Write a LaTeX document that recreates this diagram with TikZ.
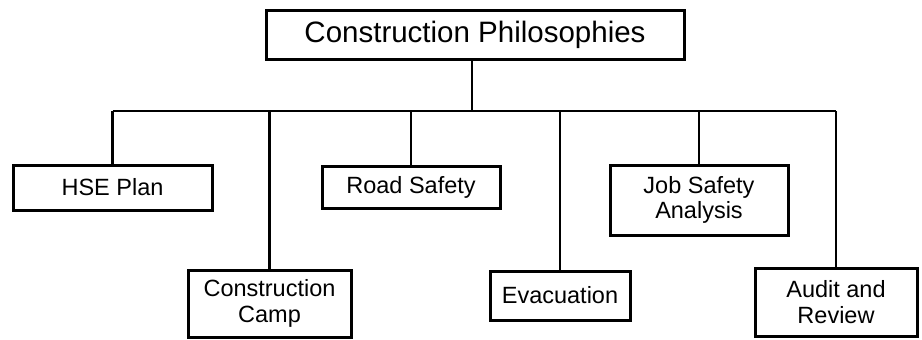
\documentclass[tikz,border=0pt]{standalone}
\usepackage{fontspec}
\setmainfont{Liberation Sans}
\begin{document}
\begin{tikzpicture}[x=1pt,y=-1pt,
  box/.style={draw, line width=3pt, rectangle, inner sep=0pt, align=center,
    font=\fontsize{23.5}{25.5}\selectfont},
  conn/.style={line width=2.8pt}]
\useasboundingbox (0,0) rectangle (922,340);
\node[box, minimum width=418pt, minimum height=49pt, font=\fontsize{29.5}{33}\selectfont] (top) at (475,34.5) {Construction Philosophies};
\node[box, minimum width=199pt, minimum height=45pt] (hse) at (112.5,187.5) {HSE Plan};
\node[box, minimum width=178pt, minimum height=42pt] (road) at (411,187) {Road Safety};
\node[box, minimum width=163pt, minimum height=67pt] (camp) at (269.5,303.5) {Construction\\Camp};
\node[box, minimum width=140pt, minimum height=49pt] (evac) at (560,295.5) {Evacuation};
\node[box, minimum width=178pt, minimum height=70pt] (jsa) at (699,200) {Job Safety\\Analysis};
\node[box, minimum width=162pt, minimum height=68pt] (audit) at (836,302) {Audit and\\Review};
\coordinate (bus) at (472,111);
\draw[conn] (top.south -| bus) -- (bus);
\draw[conn] (hse.north |- bus) -- (audit.north |- bus);
\foreach \n in {hse,camp,road,evac,jsa,audit}
  \draw[conn] (\n.north) -- (\n.north |- bus);
\end{tikzpicture}
\end{document}
